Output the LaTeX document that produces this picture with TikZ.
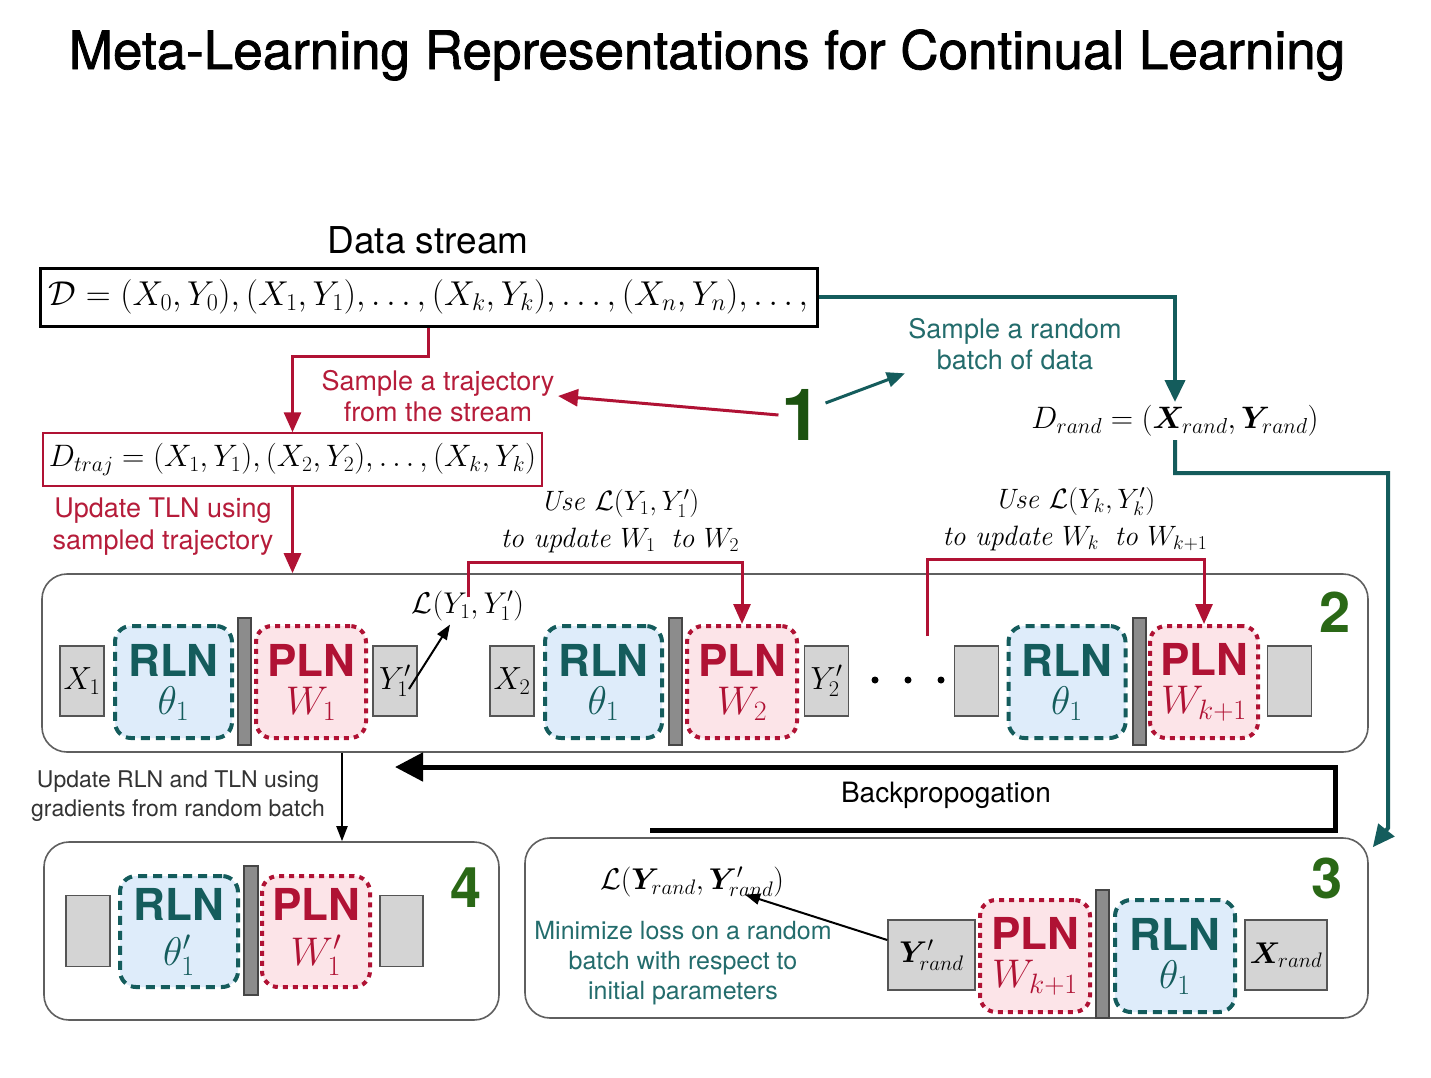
\documentclass[tikz,border=0pt]{standalone}
\usepackage{fix-cm}
\usepackage{bm}
\usepackage[no-math]{fontspec}
\setmainfont{TeX Gyre Heros}
\newfontfamily\titlefont[FakeBold=1.4]{TeX Gyre Heros}
\usetikzlibrary{arrows.meta}

\definecolor{tealc}{RGB}{20,92,92}
\definecolor{tealtxt}{RGB}{35,108,108}
\definecolor{crimson}{RGB}{176,18,52}
\definecolor{crimtxt}{RGB}{182,28,58}
\definecolor{numgreen}{RGB}{42,104,22}
\definecolor{onegreen}{RGB}{28,82,16}
\definecolor{rlnfill}{RGB}{222,236,250}
\definecolor{plnfill}{RGB}{252,228,232}
\definecolor{boxfill}{RGB}{212,212,212}
\definecolor{boxline}{RGB}{85,85,85}
\definecolor{barfill}{RGB}{140,140,140}
\definecolor{barline}{RGB}{70,70,70}
\definecolor{stageline}{RGB}{95,95,95}

\newcommand{\fsz}[2]{\fontsize{#1}{#2}\selectfont}
% two line label of a network block
\newcommand{\netlabel}[3][0pt]{{\fontsize{44}{38}\selectfont\bfseries #2}\\[#1]$#3$}

\tikzset{
  netin/.style={draw=boxline, fill=boxfill, line width=1.5pt, minimum width=44pt,
    minimum height=70pt, inner sep=0pt, font=\fsz{32}{34}},
  rln/.style={draw=tealc, fill=rlnfill, line width=4pt, dash pattern=on 9pt off 6pt,
    rounded corners=16pt, minimum width=117pt, minimum height=112pt, inner sep=0pt,
    align=center, text=tealc, font=\fsz{40}{38}},
  pln/.style={draw=crimson, fill=plnfill, line width=4pt, dash pattern=on 5pt off 5pt,
    rounded corners=16pt, minimum width=110pt, minimum height=112pt, inner sep=0pt,
    align=center, text=crimson, font=\fsz{40}{38}},
  sepbar/.style={draw=barline, fill=barfill, line width=1.5pt, minimum width=13pt,
    minimum height=127pt, inner sep=0pt},
  stage/.style={draw=stageline, line width=1.6pt, rounded corners=25pt, inner sep=0pt},
  stagenum/.style={text=numgreen, font=\fsz{56}{56}\bfseries},
  redtext/.style={text=crimtxt, font=\fsz{27}{31}, align=center},
  tealtext/.style={text=tealtxt, font=\fsz{27}{31}, align=center},
  redline/.style={draw=crimson, line width=3pt, -{Triangle[length=20pt,width=17pt]}},
  tealline/.style={draw=tealc, line width=4pt, -{Triangle[length=22pt,width=20pt]}},
  thinarrow/.style={draw=black, line width=2pt, -{Triangle[length=15pt,width=11pt]}},
}

\begin{document}
\begin{tikzpicture}[x=1pt, y=-1pt]
\fill[white] (0,0) rectangle (1431,1077);
\useasboundingbox (0,0) rectangle (1431,1077);

\node[font=\titlefont\fsz{53}{60}] (title) at (707,55) {Meta-Learning Representations for Continual Learning};

% data stream and the two samples
\node[font=\fsz{37}{40}] (streamlabel) at (428,240) {Data stream};
\node[draw=black, line width=3pt, minimum width=777pt, minimum height=58pt, inner sep=0pt,
  font=\fsz{34.5}{40}] (stream) at (428.5,297)
  {$\mathcal{D} = (X_0,Y_0),(X_1,Y_1),\dots,(X_k,Y_k),\dots,(X_n,Y_n),\dots,$};
\node[draw=crimson, line width=1.5pt, minimum width=499pt, minimum height=53pt, inner sep=0pt,
  font=\fsz{31}{36}] (traj) at (292.5,459.5)
  {$D_{traj} = (X_1,Y_1),(X_2,Y_2),\dots,(X_k,Y_k)$};
\node[font=\fsz{31}{36}] (drand) at (1175,421) {$D_{rand} = (\bm{X}_{rand},\bm{Y}_{rand})$};

\node[redtext] (sampleTraj) at (438,396) {Sample a trajectory\\from the stream};
\node[tealtext] (sampleRand) at (1015,344) {Sample a random\\batch of data};
\node[redtext, font=\fsz{27}{32}] (updTLN) at (163,527) {Update TLN using\\sampled trajectory};
\node[text=onegreen, font=\fsz{72}{72}\bfseries] (num1) at (802,415) {1};

% stage 2: inner loop over the trajectory
\node[stage, minimum width=1326pt, minimum height=178pt] (stageB) at (705,663) {};
\node[netin] (xA) at (82,681) {$X_1$};
\node[rln] (rlnA) at (173.5,682) {\netlabel{RLN}{\theta_1}};
\node[sepbar] (barA) at (244.5,681.5) {};
\node[pln] (plnA) at (311,682) {\netlabel{PLN}{W_1}};
\node[netin] (yA) at (395,681) {$Y'_1$};

\node[netin] (xB) at (512,681) {$X_2$};
\node[rln] (rlnB) at (603.5,682) {\netlabel{RLN}{\theta_1}};
\node[sepbar] (barB) at (675.5,681.5) {};
\node[pln] (plnB) at (742,682) {\netlabel{PLN}{W_2}};
\node[netin] (yB) at (826.5,681) {$Y'_2$};

\foreach \dx in {875,908,941}
  \fill (\dx,680) circle (3.5);
\coordinate (dotsUp) at (927,636);

\node[netin] (xC) at (976.5,681) {};
\node[rln] (rlnC) at (1067,682) {\netlabel{RLN}{\theta_1}};
\node[sepbar] (barC) at (1139.5,681.5) {};
\node[pln, minimum width=108pt] (plnC) at (1204,682) {\netlabel{PLN}{W_{k+1}}};
\node[netin] (yC) at (1289.5,681) {};
\node[stagenum] (num2) at (1335,612) {2};

\node[font=\fsz{30}{34}] (lossA) at (468,606) {$\mathcal{L}(Y_1,Y'_1)$};
\node[font=\fsz{28}{37}, align=center] (useA) at (620,521)
  {$\mathit{Use}\ \mathcal{L}(Y_1,Y'_1)$\\$\mathit{to\ update}\ W_1\ \ \mathit{to}\ W_2$};
\node[font=\fsz{28}{37}, align=center] (useK) at (1075,519)
  {$\mathit{Use}\ \mathcal{L}(Y_k,Y'_k)$\\$\mathit{to\ update}\ W_k\ \ \mathit{to}\ W_{k+1}$};

% stage 4: updated networks
\node[stage, minimum width=455pt, minimum height=178pt] (stageD) at (271.5,931) {};
\node[netin, minimum height=71pt] (xD) at (88,931) {};
\node[rln, minimum width=118pt, minimum height=111pt] (rlnD) at (179,931.5)
  {\netlabel[7pt]{RLN}{\theta'_1}};
\node[sepbar, minimum width=14pt, minimum height=129pt] (barD) at (251,930.5) {};
\node[pln, minimum width=108pt, minimum height=111pt] (plnD) at (316,931.5)
  {\netlabel[7pt]{PLN}{W'_1}};
\node[netin, minimum width=43pt, minimum height=71pt] (yD) at (401.5,931) {};
\node[stagenum] (num4) at (466,888) {4};

% stage 3: loss on the random batch
\node[stage, minimum width=843pt, minimum height=180pt] (stageC) at (946.5,928) {};
\node[netin, minimum width=87pt, font=\fsz{30}{34}] (yR) at (931.5,955) {$\bm{Y}'_{rand}$};
\node[pln] (plnR) at (1035,956) {\netlabel{PLN}{W_{k+1}}};
\node[sepbar, minimum height=128pt] (barR) at (1102.5,954) {};
\node[rln, minimum width=120pt] (rlnR) at (1175,956) {\netlabel{RLN}{\theta_1}};
\node[netin, minimum width=82pt, font=\fsz{30}{34}] (xR) at (1286,955) {$\bm{X}_{rand}$};
\node[stagenum] (num3) at (1327,878) {3};
\node[font=\fsz{30}{34}] (lossR) at (692,882) {$\mathcal{L}(\bm{Y}_{rand},\bm{Y}'_{rand})$};
\node[tealtext, font=\fsz{25}{30}] (minText) at (683,963)
  {Minimize loss on a random\\batch with respect to\\initial parameters};

\node[font=\fsz{23}{29}, align=center, text=black!80] (updRLN) at (178,796)
  {Update RLN and TLN using\\gradients from random batch};
\node[font=\fsz{28}{32}] (backprop) at (946,795) {Backpropogation};

% connectors
\draw[redline] (stream.south) -- ++(0,29) -| (traj.north);
\draw[redline] (traj.south) -- (traj.south |- stageB.north);
\draw[redline] (num1.west) -- (sampleTraj.east);
\draw[tealline, line width=3pt, -{Triangle[length=18pt,width=15pt]}]
  ([yshift=12pt]num1.east) -- (sampleRand.south west);
\draw[tealline] (stream.east) -| (drand.north);
\coordinate (tealTurn) at (1388,828);
\draw[tealline] (drand.south) -- ++(0,33) -| (tealTurn) -- ([shift={(4,10)}]stageC.north east);

\draw[thinarrow] ([shift={(14,8)}]yA.center) -- ([xshift=-18pt]lossA.south);
\draw[redline] ([yshift=-10pt]lossA.north) |- ([yshift=62pt]plnB.north) -- (plnB.north);
\draw[redline] (dotsUp) |- ([yshift=65pt]plnC.north) -- (plnC.north);

\coordinate (bpStart) at (650,830);
\coordinate (bpEnd) at (395,767);
\draw[line width=5pt, -{Triangle[length=28pt,width=28pt]}] (bpStart) -- (1335,830) |- (bpEnd);
\draw[thinarrow] ([xshift=-363pt]stageB.south) -- ([xshift=70.5pt]stageD.north);
\draw[thinarrow] ([yshift=15pt]yR.west) -- ([shift={(53,-6)}]lossR.south);

\end{tikzpicture}
\end{document}
